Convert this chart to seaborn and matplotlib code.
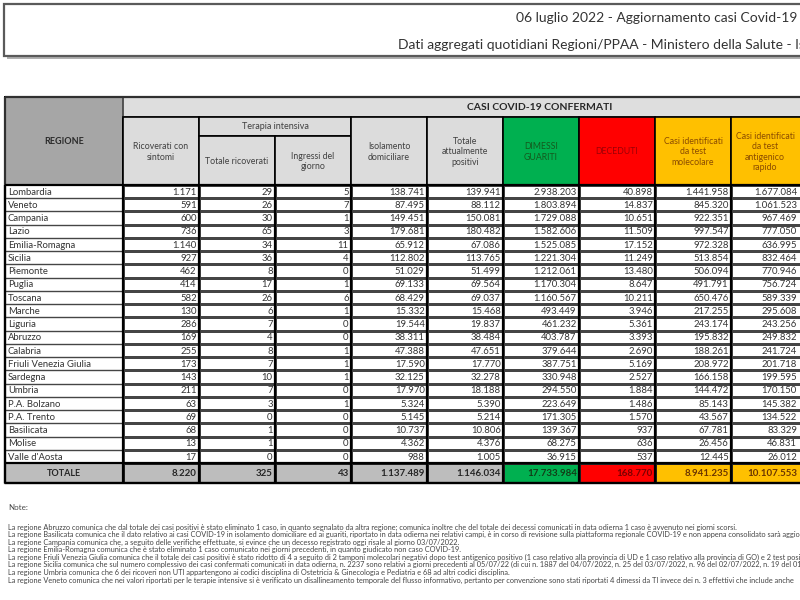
import numpy as np
import pandas as pd
import matplotlib.pyplot as plt
import seaborn as sns
from matplotlib.colors import ListedColormap
from matplotlib.patches import Rectangle

# ---------------------------
# dati bollettino 06/07/2022
# ---------------------------
regioni = ['Lombardia', 'Veneto', 'Campania', 'Lazio', 'Emilia-Romagna', 'Sicilia',
           'Piemonte', 'Puglia', 'Toscana', 'Marche', 'Liguria', 'Abruzzo', 'Calabria',
           'Friuli Venezia Giulia', 'Sardegna', 'Umbria', 'P.A. Bolzano', 'P.A. Trento',
           'Basilicata', 'Molise', "Valle d'Aosta"]
ricoverati = [1171, 591, 600, 736, 1140, 927, 462, 414, 582, 130, 286, 169, 255, 173,
              143, 211, 63, 69, 68, 13, 17]
terapia_int = [29, 26, 30, 65, 34, 36, 8, 17, 26, 6, 7, 4, 8, 7, 10, 7, 3, 0, 1, 1, 0]
ingressi = [5, 7, 1, 3, 11, 4, 0, 1, 6, 1, 0, 0, 1, 1, 1, 0, 1, 0, 0, 0, 0]
isolamento = [138741, 87495, 149451, 179681, 65912, 112802, 51029, 69133, 68429, 15332,
              19544, 38311, 47388, 17590, 32125, 17970, 5324, 5145, 10737, 4362, 988]
positivi = [139941, 88112, 150081, 180482, 67086, 113765, 51499, 69564, 69037, 15468,
            19837, 38484, 47651, 17770, 32278, 18188, 5390, 5214, 10806, 4376, 1005]
guariti = [2938203, 1803894, 1729088, 1582606, 1525085, 1221304, 1212061, 1170304,
           1160567, 493449, 461232, 403787, 379644, 387751, 330948, 294550, 223649,
           171305, 139367, 68275, 36915]
deceduti = [40898, 14837, 10651, 11509, 17152, 11249, 13480, 8647, 10211, 3946, 5361,
            3393, 2690, 5169, 2527, 1884, 1486, 1570, 937, 636, 537]
molecolare = [1441958, 845320, 922351, 997547, 972328, 513854, 506094, 491791, 650476,
              217255, 243174, 195832, 188261, 208972, 166158, 144472, 85143, 43567,
              67781, 26456, 12445]
antigenico = [1677084, 1061523, 967469, 777050, 636995, 832464, 770946, 756724, 589339,
              295608, 243256, 249832, 241724, 201718, 199595, 170150, 145382, 134522,
              83329, 46831, 26012]
totali = [8220, 325, 43, 1137489, 1146034, 17733984, 168770, 8941235, 10107553]
# colore cella totale: 0 grigio, 1 verde, 2 rosso, 3 arancio
colori_totale = [0, 0, 0, 0, 0, 1, 2, 3, 3]

note = [
    "La regione Abruzzo comunica che dal totale dei casi positivi è stato eliminato 1 caso, in quanto segnalato da altra regione; comunica inoltre che del totale dei decessi comunicati in data odierna 1 caso è avvenuto nei giorni scorsi.",
    "La regione Basilicata comunica che il dato relativo ai casi COVID-19 in isolamento domiciliare ed ai guariti, riportato in data odierna nei relativi campi, è in corso di revisione sulla piattaforma regionale COVID-19 e non appena consolidato sarà aggiornato.",
    "La regione Campania comunica che, a seguito delle verifiche effettuate, si evince che un decesso registrato oggi risale al giorno 03/07/2022.",
    "La regione Emilia-Romagna comunica che è stato eliminato 1 caso comunicato nei giorni precedenti, in quanto giudicato non caso COVID-19.",
    "La regione Friuli Venezia Giulia comunica che il totale dei casi positivi è stato ridotto di 4 a seguito di 2 tamponi molecolari negativi dopo test antigenico positivo (1 caso relativo alla provincia di UD e 1 caso relativo alla provincia di GO) e 2 test positivi ripetuti.",
    "La regione Sicilia comunica che sul numero complessivo dei casi confermati comunicati in data odierna, n. 2237 sono relativi a giorni precedenti al 05/07/22 (di cui n. 1887 del 04/07/2022, n. 25 del 03/07/2022, n. 96 del 02/07/2022, n. 19 del 01/07/2022).",
    "La regione Umbria comunica che 6 dei ricoveri non UTI appartengono ai codici disciplina di Ostetricia & Ginecologia e Pediatria e 68 ad altri codici disciplina.",
    "La regione Veneto comunica che nei valori riportati per le terapie intensive si è verificato un disallineamento temporale del flusso informativo, pertanto per convenzione sono stati riportati 4 dimessi da TI invece dei n. 3 effettivi che include anche",
]

df = pd.DataFrame({
    'ricoverati': ricoverati, 'ti': terapia_int, 'ingressi': ingressi,
    'isolamento': isolamento, 'positivi': positivi, 'guariti': guariti,
    'deceduti': deceduti, 'molecolare': molecolare, 'antigenico': antigenico,
}, index=regioni)


def fmt(v):
    return f"{v:,}".replace(",", ".")


sns.set_theme(style="white")
plt.rcParams['font.family'] = ['Lato', 'DejaVu Sans']

W, H = 800, 600
fig = plt.figure(figsize=(8, 6), dpi=100)
fig.patch.set_facecolor('white')

# geometria tabella in pixel
x_edges = np.cumsum([5, 118] + [76] * 9)
y_head, y_band, y_ti, y_body, y_tot, y_end = 97, 117, 136, 185, 463, 483
n = len(regioni)
row_h = (y_tot - y_body) / n
col_w = 76
testo = '#333333'
# l'ultima colonna esce dal bordo: numeri allineati a 797 px
x_dx = [j + 0.97 for j in range(8)] + [(797 - x_edges[1]) / col_w]

# ---------------------------
# corpo tabella (heatmap bianca)
# ---------------------------
hm = fig.add_axes([x_edges[1] / W, 1 - y_tot / H,
                   (x_edges[-1] - x_edges[1]) / W, (y_tot - y_body) / H])
sns.heatmap(np.zeros(df.shape), ax=hm, cmap=ListedColormap(['white']), vmin=0, vmax=1,
            cbar=False, linewidths=1.0, linecolor='#454545',
            xticklabels=False, yticklabels=False)
for i, reg in enumerate(df.index):
    hm.text(-(x_edges[1] - x_edges[0] - 3) / col_w, i + 0.55, reg,
            ha='left', va='center', fontsize=6.8, color=testo)
    for j in range(df.shape[1]):
        hm.text(x_dx[j], i + 0.55, fmt(df.iloc[i, j]),
                ha='right', va='center', fontsize=6.8, color=testo)

# riga TOTALE
tot = fig.add_axes([x_edges[1] / W, 1 - y_end / H,
                    (x_edges[-1] - x_edges[1]) / W, (y_end - y_tot) / H])
sns.heatmap(np.array([colori_totale]), ax=tot,
            cmap=ListedColormap(['#bdbdbd', '#00b050', '#ff0000', '#ffc000']),
            vmin=-0.5, vmax=3.5, cbar=False, linewidths=1.0, linecolor='#222222',
            xticklabels=False, yticklabels=False)
col_txt_tot = ['#262626', '#123d17', '#7a0000', '#6b3500']
for j, v in enumerate(totali):
    tot.text(x_dx[j], 0.55, fmt(v), ha='right', va='center', fontsize=7,
             fontweight='bold', color=col_txt_tot[colori_totale[j]])

# ---------------------------
# cornici, intestazioni, note
# ---------------------------
ax = fig.add_axes([0, 0, 1, 1], zorder=5)
ax.set_xlim(0, W)
ax.set_ylim(H, 0)
ax.axis('off')

# riquadro titolo
ax.add_patch(Rectangle((7, 7), 820, 52, facecolor='#b0b0b0', edgecolor='none', zorder=1))
ax.add_patch(Rectangle((4, 4), 820, 52, facecolor='white', edgecolor='#5a5a5a', lw=1.6, zorder=2))
ax.text(797, 18, "06 luglio 2022 - Aggiornamento casi Covid-19", fontsize=10,
        color='#333333', va='center', ha='right', zorder=3)
ax.text(398, 45, "Dati aggregati quotidiani Regioni/PPAA - Ministero della Salute - Istituto Superiore di Sanità",
        fontsize=10, color='#333333', va='center', ha='left', zorder=3)

# intestazione
x0 = x_edges[0]
ax.add_patch(Rectangle((x0, y_head), x_edges[1] - x0, y_body - y_head,
                       facecolor='#a6a6a6', edgecolor='black', lw=1.4))
ax.text((x0 + x_edges[1]) / 2, 141, "REGIONE", ha='center', va='center',
        fontsize=6.5, fontweight='bold', color='#2b2b2b')
ax.add_patch(Rectangle((x_edges[1], y_head), 120 + x_edges[-1] - x_edges[1], y_band - y_head,
                       facecolor='#dedede', edgecolor='#555555', lw=1.4))
ax.text(540, 107, "CASI COVID-19 CONFERMATI", ha='center', va='center',
        fontsize=7.5, fontweight='bold', color='#262626')

grigio, g_txt = '#dcdcdc', '#404040'
intestazioni = [
    (1, 2, y_band, "Ricoverati con\nsintomi", grigio, g_txt),
    (2, 4, y_band, None, grigio, g_txt),
    (2, 3, y_ti, "Totale ricoverati", grigio, g_txt),
    (3, 4, y_ti, "Ingressi del\ngiorno", grigio, g_txt),
    (4, 5, y_band, "Isolamento\ndomiciliare", grigio, g_txt),
    (5, 6, y_band, "Totale\nattualmente\npositivi", grigio, g_txt),
    (6, 7, y_band, "DIMESSI\nGUARITI", '#00b050', '#145a1e'),
    (7, 8, y_band, "DECEDUTI", '#ff0000', '#9c0006'),
    (8, 9, y_band, "Casi identificati\nda test\nmolecolare", '#ffc000', '#8a4b00'),
    (9, 10, y_band, "Casi identificati\nda test\nantigenico\nrapido", '#ffc000', '#8a4b00'),
]
for a, b, ys, lab, fc, tc in intestazioni:
    xa, xb = x_edges[a], x_edges[b]
    hgt = (y_ti - y_band) if lab is None else (y_body - ys)
    ax.add_patch(Rectangle((xa, ys), xb - xa, hgt, facecolor=fc, edgecolor='black', lw=1.2))
    if lab is not None:
        xc = min((xa + xb) / 2, 765)
        ax.text(xc, (ys + y_body) / 2 + 1, lab, ha='center', va='center',
                fontsize=6.3, color=tc, linespacing=1.15)
ax.text((x_edges[2] + x_edges[4]) / 2, (y_band + y_ti) / 2, "Terapia intensiva",
        ha='center', va='center', fontsize=6.5, color=g_txt)

# cella TOTALE
ax.add_patch(Rectangle((x0, y_tot), x_edges[1] - x0, y_end - y_tot,
                       facecolor='#bdbdbd', edgecolor='black', lw=1.4))
ax.text((x0 + x_edges[1]) / 2, (y_tot + y_end) / 2 + 0.5, "TOTALE", ha='center', va='center',
        fontsize=6.5, fontweight='bold', color='#262626')

# griglia
ax.hlines(y_body + row_h * np.arange(1, n), x0, x_edges[1], color='#454545', lw=1.0)
ax.vlines(x_edges, y_body, y_end, color='black', lw=1.6)
ax.hlines([y_body, y_tot, y_end], x0, x_edges[-1], color='black', lw=1.6)
ax.add_patch(Rectangle((x0, y_head), x_edges[-1] - x0 + 100, y_end - y_head,
                       fill=False, edgecolor='#303030', lw=1.6))

# note
ax.text(8, 507, "Note:", fontsize=5.8, color='#444444', va='center')
y_note = [527, 534.5, 542, 549.5, 557, 564.5, 572, 580]
for y, riga in zip(y_note, note):
    ax.text(8, y, riga, fontsize=5.3, color='#444444', va='center')

fig.savefig("out.png", dpi=100, facecolor='white')
